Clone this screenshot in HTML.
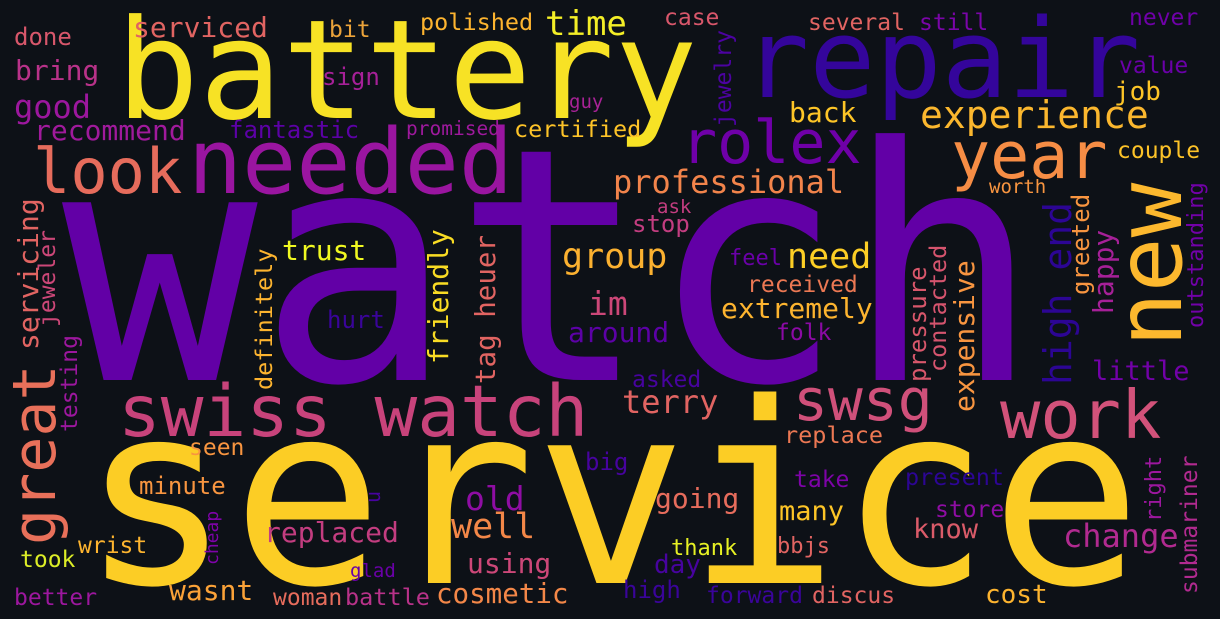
<!DOCTYPE html>
<html><head><meta charset="utf-8"><style>
html,body{margin:0;padding:0;background:#0d1117;}
svg{display:block}
text{font-family:"DejaVu Sans Mono","Liberation Mono",monospace;}
</style></head><body>
<svg id="cloud" width="1220" height="619" viewBox="0 0 1220 619" xmlns="http://www.w3.org/2000/svg">
<rect width="1220" height="619" fill="#0d1117"/>
</svg>
<script>
const words = ["watch","service","battery","repair","needed","rolex","look","year","new","great","swiss watch","swsg","work","experience","professional","time","serviced","bit","polished","case","several","still","never","done","bring","good","recommend","fantastic","sign","promised","guy","certified","jewelry","back","job","value","couple","worth","greeted","outstanding","happy","little","high end","ask","stop","group","need","feel","received","extremely","folk","contacted","expensive","pressure","im","trust","friendly","tag heuer","definitely","hurt","around","servicing","jeweler","testing","terry","asked","replace","seen","old","well","going","minute","big","take","present","right","submariner","store","u","cheap","replaced","many","know","change","wrist","took","thank","day","bbjs","using","glad","high","better","wasnt","woman","battle","cosmetic","forward","discus","cost"];
const sizes = [325,252,138,110,90,60,62,65,91,60,71,58,67,38,32,34,28,23,23.5,23,23,23,23,24,28,32,28,24,24,19.5,19,23.5,23,28,26,23,23,19,24,22,28,27,38,19,24,35,35,22,23,28,23,23.5,28,24,33,28,28,27.5,23.5,24,28,28,23,23,32,23,23.5,23,33,35,28,24,24,23,23.5,22,23,23,20,18,28,27,27,32,23,23,22,26,22,28,19,24,23,28,23,23.5,27.5,23,23,26];
const vertical = [0,0,0,0,0,0,0,0,1,1,0,0,0,0,0,0,0,0,0,0,0,0,0,0,0,0,0,0,0,0,0,0,1,0,0,0,0,0,1,1,1,0,1,0,0,0,0,0,0,0,0,1,1,1,0,0,1,1,1,0,0,1,1,1,0,0,0,0,0,0,0,0,0,0,0,1,1,0,1,1,0,0,0,0,0,0,0,0,0,0,0,0,0,0,0,0,0,0,0,0];
const anchorX = [62,80,116,743,188,681,33,951,1181,55,118,793,1000,920,613,545,133,329,420,664,808,919,1129,14,15,14,34,229,322,406,569,514,731,789,1114,1119,1117,989,1089,1203,1113,1092,1071,657,632,562,787,729,747,721,776,946,974,926,588,282,448,495,272,327,568,38,55,77,622,632,784,189,465,451,655,139,585,794,905,1161,1197,935,380,218,264,779,913,1063,78,20,671,654,777,467,350,623,14,169,273,345,436,706,812,985];
const anchorY = [380,583,118,97,193,163,193,178,347,545,436,420,438,128,193,35,37,37,30,25,30,30,25,45,80,118,140,138,85,135,108,137,127,122,100,73,158,193,295,328,314,380,385,213,232,268,268,265,292,318,340,372,412,382,315,260,364,384,390,328,342,350,327,432,413,387,443,455,510,538,508,494,470,487,485,522,594,517,503,565,542,520,538,547,553,567,555,573,553,573,577,598,605,600,605,605,603,603,603,603];
const colors = ["#6200a6","#fccd25","#f7e225","#34059b","#9a15a0","#6f00a8","#e66c5c","#f68d45","#fcb82e","#e8705a","#c8437b","#d0507a","#d2527a","#fbb72e","#f2844b","#f3ee27","#e16462","#eba33a","#fdb42f","#d8576b","#e16462","#7a05a8","#6f00a8","#d8576b","#b83289","#9c179e","#a01a9c","#5c01a6","#a62098","#9e199d","#a82296","#fdc328","#4c02a1","#fdc527","#fdc527","#6a00a8","#fdc328","#f89540","#f89540","#7201a8","#a62098","#7201a8","#2c0594","#c33d80","#c33d80","#fbb130","#fcce25","#6a00a8","#ec7853","#fdb42f","#8b0aa5","#d5546e","#f89540","#d8576b","#cc4778","#f0f921","#f9dc24","#e16462","#fdb42f","#3a049a","#5c01a6","#e16462","#cc4778","#9c179e","#e16462","#47039f","#ec7853","#f89540","#8f0da4","#f38748","#e66c5c","#f89540","#47039f","#7e03a8","#2c0594","#9c179e","#b12a90","#8f0da4","#47039f","#7e03a8","#c33d80","#fdc527","#da5b69","#b12a90","#fdb42f","#dced27","#e6f124","#47039f","#e16462","#cc4778","#6a00a8","#3a049a","#9c179e","#fba238","#e66c5c","#b83289","#f38748","#3a049a","#e16462","#fdb42f"];

const svg = document.getElementById('cloud');
const NS = 'http://www.w3.org/2000/svg';
for (let i = 0; i < words.length; i++) {
  const t = document.createElementNS(NS, 'text');
  t.textContent = words[i];
  t.setAttribute('font-size', sizes[i]);
  t.setAttribute('fill', colors[i]);
  t.setAttribute('xml:space', 'preserve');
  if (vertical[i]) {
    t.setAttribute('x', 0);
    t.setAttribute('y', 0);
    t.setAttribute('transform', 'translate(' + anchorX[i] + ',' + anchorY[i] + ') rotate(-90)');
  } else {
    t.setAttribute('x', anchorX[i]);
    t.setAttribute('y', anchorY[i]);
  }
  
  
  svg.appendChild(t);
}
</script>
</body></html>
